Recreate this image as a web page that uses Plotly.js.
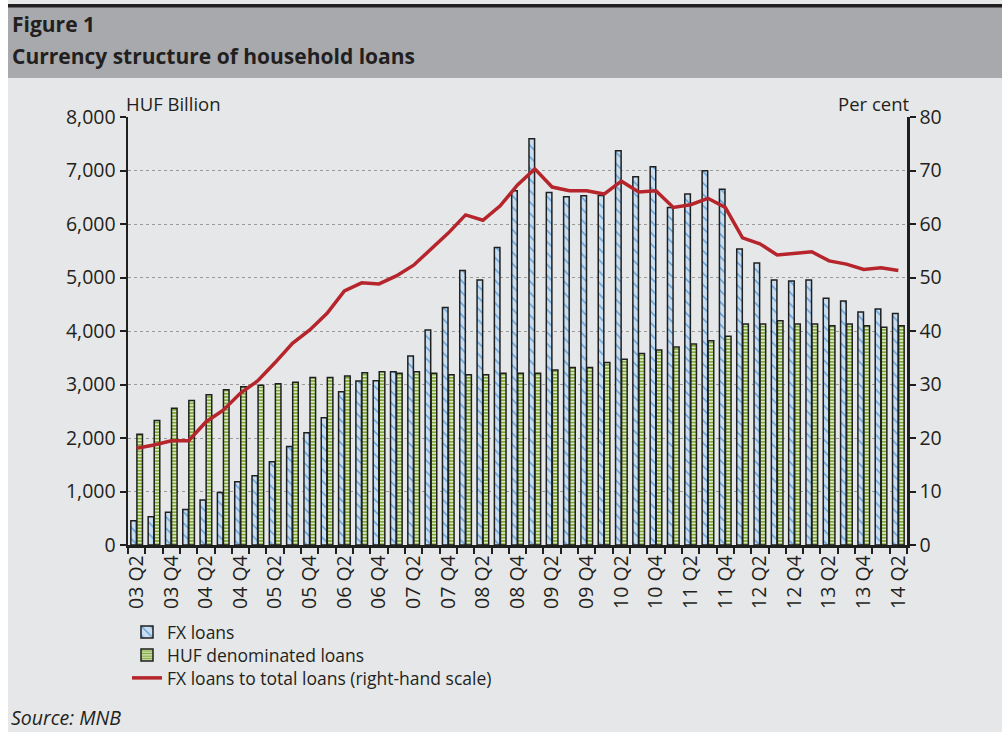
<!DOCTYPE html>
<html>
<head>
<meta charset="utf-8">
<script src="https://cdn.plot.ly/plotly-3.0.1.min.js"></script>
<style>
  html, body { margin: 0; padding: 0; background: #ffffff; }
  #chart { width: 1002px; height: 732px; }
</style>
</head>
<body>
<div id="chart"></div>
<script>
// ---- Data ----
const quarters = [
  '03 Q2','03 Q3','03 Q4','04 Q1','04 Q2','04 Q3','04 Q4','05 Q1','05 Q2','05 Q3',
  '05 Q4','06 Q1','06 Q2','06 Q3','06 Q4','07 Q1','07 Q2','07 Q3','07 Q4','08 Q1',
  '08 Q2','08 Q3','08 Q4','09 Q1','09 Q2','09 Q3','09 Q4','10 Q1','10 Q2','10 Q3',
  '10 Q4','11 Q1','11 Q2','11 Q3','11 Q4','12 Q1','12 Q2','12 Q3','12 Q4','13 Q1',
  '13 Q2','13 Q3','13 Q4','14 Q1','14 Q2'
];

// FX loans, HUF billion
const fxLoans = [
  455, 530, 610, 665, 840, 980, 1180, 1295, 1555, 1840,
  2100, 2380, 2865, 3065, 3070, 3240, 3535, 4020, 4440, 5130,
  4955, 5560, 6620, 7595, 6590, 6510, 6530, 6535, 7370, 6885,
  7070, 6310, 6560, 6995, 6650, 5535, 5270, 4955, 4935, 4955,
  4610, 4560, 4355, 4410, 4325
];

// HUF denominated loans, HUF billion
const hufLoans = [
  2070, 2325, 2555, 2700, 2810, 2900, 2960, 2985, 3015, 3040,
  3130, 3130, 3160, 3220, 3240, 3210, 3240, 3210, 3180, 3180,
  3180, 3210, 3210, 3210, 3270, 3320, 3320, 3410, 3470, 3580,
  3645, 3700, 3755, 3820, 3900, 4130, 4130, 4190, 4130, 4130,
  4100, 4130, 4100, 4070, 4100
];

// FX loans to total loans, per cent (right-hand scale)
const fxShare = [
  18.1, 18.7, 19.5, 19.5, 23.0, 25.2, 28.4, 30.7, 34.1, 37.7,
  40.2, 43.3, 47.5, 49.0, 48.8, 50.3, 52.3, 55.3, 58.3, 61.7,
  60.7, 63.4, 67.3, 70.3, 66.9, 66.2, 66.2, 65.6, 68.0, 66.0,
  66.2, 63.1, 63.6, 64.8, 63.1, 57.4, 56.3, 54.2, 54.5, 54.8,
  53.1, 52.5, 51.5, 51.8, 51.3
];

// Tick labels shown on the category axis
const tickLabels = [
  '03 Q2','03 Q4','04 Q2','04 Q4','05 Q2','05 Q4','06 Q2','06 Q4','07 Q2','07 Q4',
  '08 Q2','08 Q4','09 Q2','09 Q4','10 Q2','10 Q4','11 Q2','11 Q4','12 Q2','12 Q4',
  '13 Q2','13 Q4','14 Q2'
];

// ---- Layout helpers (pixel -> paper) ----
const W = 1002, H = 732;
const L = 128, R = 907, T = 117, B = 545;
const px = v => (v - L) / (R - L);
const py = v => (B - v) / (B - T);

const FONT = '"Open Sans", "Noto Sans", sans-serif';
const TXT = '#231f20';
const TICKFONT = { family: FONT, size: 19.5, color: TXT };
const LEGFONT = { family: FONT, size: 17.5, color: TXT };

const traces = [
  {
    type: 'bar',
    name: 'FX loans',
    legend: 'legend',
    x: quarters,
    y: fxLoans,
    marker: {
      color: '#c9def1',
      line: { color: '#1f1f1f', width: 1.5 },
      pattern: { shape: '\\', fgcolor: '#5b9bd5', bgcolor: '#c9def1', size: 8, solidity: 0.18 }
    },
    hoverinfo: 'x+y'
  },
  {
    type: 'bar',
    name: 'HUF denominated loans',
    legend: 'legend2',
    x: quarters,
    y: hufLoans,
    marker: {
      color: '#d3e3b0',
      line: { color: '#1f1f1f', width: 1.5 },
      pattern: { shape: '-', fgcolor: '#7ea739', bgcolor: '#dbe9bf', size: 3.2, solidity: 0.5 }
    },
    hoverinfo: 'x+y'
  },
  {
    type: 'scatter',
    mode: 'lines',
    name: 'FX loans to total loans (right-hand scale)',
    legend: 'legend3',
    x: quarters,
    y: fxShare,
    yaxis: 'y2',
    line: { color: '#b5252b', width: 3.5 },
    hoverinfo: 'x+y'
  }
];

function legendAt(yc) {
  return {
    x: px(127), y: py(yc), xanchor: 'left', yanchor: 'middle',
    orientation: 'v', bgcolor: 'rgba(0,0,0,0)', borderwidth: 0,
    font: LEGFONT, itemwidth: 30
  };
}

const axisCommon = {
  ticks: 'outside',
  ticklen: 6,
  tickwidth: 2,
  tickcolor: '#1f1f1f',
  showline: true,
  linecolor: '#1f1f1f',
  linewidth: 2.5,
  zeroline: false,
  tickfont: TICKFONT,
  fixedrange: true
};

const layout = {
  width: W,
  height: H,
  margin: { l: L, r: W - R, t: T, b: H - B, pad: 0 },
  paper_bgcolor: '#e6e7e8',
  plot_bgcolor: '#e6e7e8',
  font: { family: FONT, size: 18, color: TXT },
  showlegend: true,
  barmode: 'group',
  bargap: 0.3,
  bargroupgap: 0.08,
  xaxis: Object.assign({}, axisCommon, {
    type: 'category',
    categoryorder: 'array',
    categoryarray: quarters,
    tickvals: quarters,
    ticktext: quarters.map(q => tickLabels.includes(q) ? q : ''),
    tickson: 'boundaries',
    tickangle: -90,
    showgrid: false
  }),
  yaxis: Object.assign({}, axisCommon, {
    range: [0, 8000],
    dtick: 1000,
    tickformat: ',d',
    showgrid: true,
    gridcolor: '#9a9a9a',
    griddash: 'dot',
    gridwidth: 1
  }),
  yaxis2: Object.assign({}, axisCommon, {
    overlaying: 'y',
    side: 'right',
    range: [0, 80],
    dtick: 10,
    showgrid: false
  }),
  legend: legendAt(632),
  legend2: legendAt(655),
  legend3: legendAt(678),
  shapes: [
    { type: 'rect', xref: 'paper', yref: 'paper', layer: 'below',
      x0: px(0), x1: px(8), y0: py(H), y1: py(0),
      fillcolor: '#ffffff', line: { width: 0 } },
    { type: 'rect', xref: 'paper', yref: 'paper', layer: 'below',
      x0: px(8), x1: px(W), y0: py(78), y1: py(7),
      fillcolor: '#a7a9ac', line: { width: 0 } },
    { type: 'rect', xref: 'paper', yref: 'paper', layer: 'below',
      x0: px(8), x1: px(W), y0: py(7.5), y1: py(4),
      fillcolor: '#231f20', line: { width: 0 } }
  ],
  annotations: [
    { text: '<b>Figure 1</b>', xref: 'paper', yref: 'paper',
      x: px(10), y: py(24), xanchor: 'left', yanchor: 'middle', showarrow: false,
      font: { family: FONT, size: 21, color: TXT } },
    { text: '<b>Currency structure of household loans</b>', xref: 'paper', yref: 'paper',
      x: px(10), y: py(56), xanchor: 'left', yanchor: 'middle', showarrow: false,
      font: { family: FONT, size: 21, color: TXT } },
    { text: 'HUF Billion', xref: 'paper', yref: 'paper',
      x: px(124), y: py(103), xanchor: 'left', yanchor: 'middle', showarrow: false,
      font: { family: FONT, size: 18.5, color: TXT } },
    { text: 'Per cent', xref: 'paper', yref: 'paper',
      x: px(911), y: py(103), xanchor: 'right', yanchor: 'middle', showarrow: false,
      font: { family: FONT, size: 18.5, color: TXT } },
    { text: '<i>Source: MNB</i>', xref: 'paper', yref: 'paper',
      x: px(9), y: py(717), xanchor: 'left', yanchor: 'middle', showarrow: false,
      font: { family: FONT, size: 19.5, color: TXT } }
  ]
};

Plotly.newPlot('chart', traces, layout, { displayModeBar: false, staticPlot: true });
</script>
</body>
</html>
